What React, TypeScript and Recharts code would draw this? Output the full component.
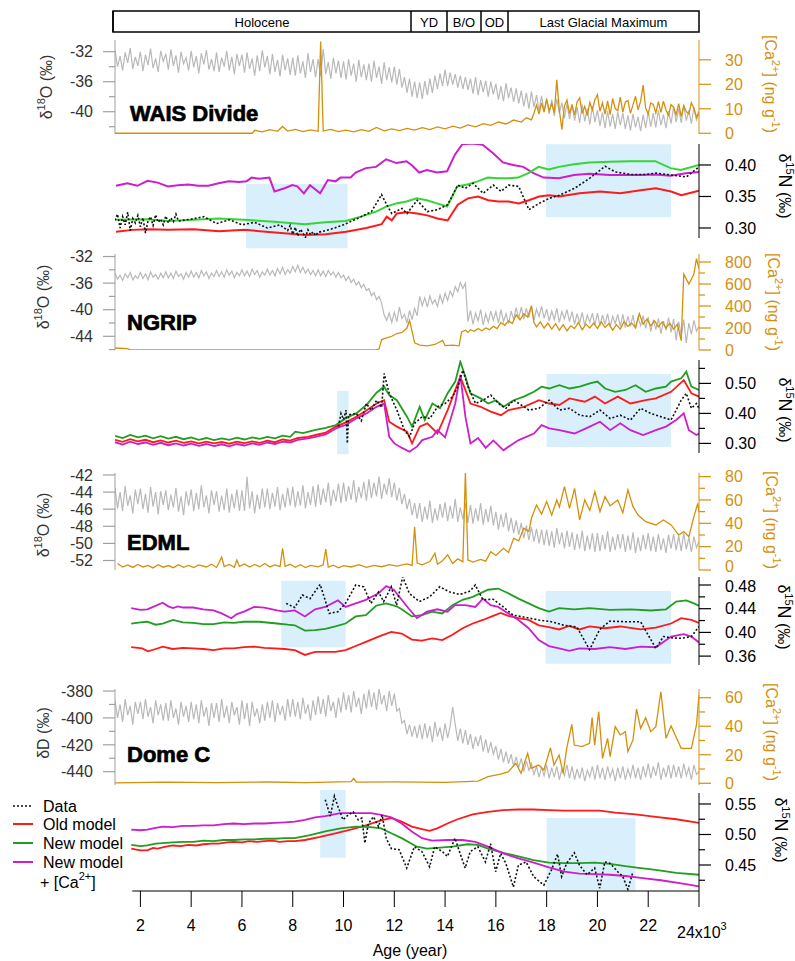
import React from "react";
import { LineChart, Line, XAxis, YAxis, ReferenceArea, ReferenceLine } from "recharts";

const W = 795;
const H = 961;
const PLOT_L = 115;
const PLOT_R = 699;
const AXW = 60;
const FONT = "'Liberation Sans', Arial, sans-serif";
const X_DOMAIN: [number, number] = [1, 24];

const GRAY = "#b9b9b9";
const ORANGE = "#d4900c";
const RED = "#ff1a1a";
const GREEN_BRIGHT = "#33d633";
const GREEN = "#1f9e1f";
const MAGENTA = "#cc1ecc";
const BLACK = "#111";
const SHADE = "#d9effb";
const AXIS_GRAY = "#a0a0a0";

// shared age grid (kyr) for the isotope records, one row per thousand years
const AGE_GRID = [
  1.0, 1.1, 1.2, 1.3, 1.4, 1.5, 1.6, 1.7, 1.8, 1.9,
  2.0, 2.1, 2.2, 2.3, 2.4, 2.5, 2.6, 2.7, 2.8, 2.9,
  3.0, 3.1, 3.2, 3.3, 3.4, 3.5, 3.6, 3.7, 3.8, 3.9,
  4.0, 4.1, 4.2, 4.3, 4.4, 4.5, 4.6, 4.7, 4.8, 4.9,
  5.0, 5.1, 5.2, 5.3, 5.4, 5.5, 5.6, 5.7, 5.8, 5.9,
  6.0, 6.1, 6.2, 6.3, 6.4, 6.5, 6.6, 6.7, 6.8, 6.9,
  7.0, 7.1, 7.2, 7.3, 7.4, 7.5, 7.6, 7.7, 7.8, 7.9,
  8.0, 8.1, 8.2, 8.3, 8.4, 8.5, 8.6, 8.7, 8.8, 8.9,
  9.0, 9.1, 9.2, 9.3, 9.4, 9.5, 9.6, 9.7, 9.8, 9.9,
  10.0, 10.1, 10.2, 10.3, 10.4, 10.5, 10.6, 10.7, 10.8, 10.9,
  11.0, 11.1, 11.2, 11.3, 11.4, 11.5, 11.6, 11.7, 11.8, 11.9,
  12.0, 12.1, 12.2, 12.3, 12.4, 12.5, 12.6, 12.7, 12.8, 12.9,
  13.0, 13.1, 13.2, 13.3, 13.4, 13.5, 13.6, 13.7, 13.8, 13.9,
  14.0, 14.1, 14.2, 14.3, 14.4, 14.5, 14.6, 14.7, 14.8, 14.9,
  15.0, 15.1, 15.2, 15.3, 15.4, 15.5, 15.6, 15.7, 15.8, 15.9,
  16.0, 16.1, 16.2, 16.3, 16.4, 16.5, 16.6, 16.7, 16.8, 16.9,
  17.0, 17.1, 17.2, 17.3, 17.4, 17.5, 17.6, 17.7, 17.8, 17.9,
  18.0, 18.1, 18.2, 18.3, 18.4, 18.5, 18.6, 18.7, 18.8, 18.9,
  19.0, 19.1, 19.2, 19.3, 19.4, 19.5, 19.6, 19.7, 19.8, 19.9,
  20.0, 20.1, 20.2, 20.3, 20.4, 20.5, 20.6, 20.7, 20.8, 20.9,
  21.0, 21.1, 21.2, 21.3, 21.4, 21.5, 21.6, 21.7, 21.8, 21.9,
  22.0, 22.1, 22.2, 22.3, 22.4, 22.5, 22.6, 22.7, 22.8, 22.9,
  23.0, 23.1, 23.2, 23.3, 23.4, 23.5, 23.6, 23.7, 23.8, 23.9,
  24.0,
];

// ---- WAIS Divide ----
const waisD18O = [
  -31.8, -34.0, -32.6, -34.5, -32.1, -33.5, -31.5, -34.3, -32.7, -33.9,
  -32.0, -34.6, -32.4, -33.8, -31.6, -34.2, -32.9, -34.7, -31.9, -33.3,
  -32.3, -34.4, -31.7, -33.9, -32.5, -34.8, -32.0, -33.6, -32.8, -34.5,
  -31.9, -34.1, -32.6, -34.9, -32.2, -33.7, -31.8, -34.4, -33.0, -34.6,
  -32.1, -34.7, -32.8, -34.0, -31.9, -34.5, -32.7, -35.0, -32.3, -33.9,
  -32.4, -34.8, -32.1, -34.3, -32.9, -35.2, -32.5, -34.6, -31.8, -34.1,
  -32.6, -35.0, -32.3, -34.7, -33.1, -35.3, -32.4, -34.5, -32.9, -35.1,
  -32.8, -35.2, -32.5, -34.9, -33.3, -35.5, -32.2, -34.7, -33.0, -35.4,
  -33.0, -35.3, -31.6, -35.0, -33.4, -35.6, -32.8, -34.9, -33.2, -35.5,
  -33.3, -35.7, -33.0, -35.2, -33.6, -36.0, -33.1, -35.4, -33.7, -35.8,
  -33.6, -36.0, -33.2, -35.5, -34.0, -36.3, -33.4, -35.8, -34.1, -36.1,
  -34.0, -36.4, -34.3, -36.8, -35.4, -37.5, -35.6, -38.0, -36.0, -38.2,
  -36.1, -38.3, -35.9, -37.8, -35.6, -37.5, -35.2, -37.0, -34.9, -36.6,
  -34.4, -36.6, -34.8, -36.4, -35.0, -36.8, -35.2, -37.0, -35.4, -37.1,
  -35.6, -37.6, -35.4, -37.8, -35.8, -37.4, -35.9, -38.0, -36.0, -37.7,
  -36.3, -38.4, -36.6, -38.6, -36.2, -38.2, -36.8, -38.7, -36.9, -38.9,
  -37.2, -39.3, -37.5, -39.6, -37.3, -39.4, -37.8, -39.9, -37.9, -40.0,
  -38.2, -40.3, -38.4, -40.6, -38.3, -40.2, -38.8, -40.9, -38.9, -41.0,
  -39.1, -41.2, -39.4, -41.5, -39.0, -41.3, -39.6, -41.7, -39.3, -41.4,
  -39.8, -41.9, -40.1, -42.2, -39.9, -42.0, -40.3, -42.3, -40.0, -41.8,
  -40.2, -42.3, -40.5, -42.5, -40.3, -42.1, -40.7, -42.6, -40.4, -42.2,
  -40.0, -42.0, -40.2, -42.1, -39.8, -41.8, -40.4, -42.2, -39.9, -41.6,
  -39.3, -41.4, -39.6, -41.5, -39.2, -41.2, -39.8, -41.6, -39.4, -41.1,
  -40.3,
];
const waisCa = [
  [1.0, 0], [6.4, 0], [6.5, 1.2], [6.8, 0.6], [7.1, 1.5], [7.4, 0.8], [7.6, 2.8], [7.8, 0.9],
  [8.1, 1.6], [8.4, 0.7], [8.7, 1.4], [9.0, 0.8], [9.1, 37.5], [9.2, 0.9], [9.5, 1.6], [9.8, 0.7],
  [10.1, 1.3], [10.4, 0.6], [10.7, 1.5], [11.0, 0.8], [11.3, 2.4], [11.6, 1.0], [11.9, 1.8], [12.2, 1.1],
  [12.5, 2.0], [12.8, 1.3], [13.1, 2.3], [13.4, 1.5], [13.7, 2.6], [14.0, 1.8], [14.3, 2.9], [14.6, 2.1],
  [14.9, 3.4], [15.2, 2.6], [15.5, 3.9], [15.8, 3.2], [16.1, 4.6], [16.4, 3.8], [16.7, 5.4], [17.0, 4.6],
  [17.2, 6.3], [17.4, 5.5], [17.5, 8.2], [17.6, 11.5], [17.7, 7.8], [17.8, 12.4], [17.9, 8.6], [18.0, 13.8],
  [18.1, 9.2], [18.2, 12.0], [18.3, 8.4], [18.4, 21.8], [18.5, 9.4], [18.6, 1.5], [18.7, 11.2], [18.8, 13.6],
  [18.9, 8.0], [19.0, 11.8], [19.1, 7.4], [19.2, 12.9], [19.3, 14.5], [19.4, 8.1], [19.5, 11.0], [19.6, 7.2],
  [19.7, 12.6], [19.8, 9.5], [19.9, 13.7], [20.0, 15.8], [20.1, 9.0], [20.2, 12.4], [20.3, 7.8], [20.4, 13.2],
  [20.5, 7.6], [20.6, 14.2], [20.7, 10.1], [20.8, 9.3], [20.9, 14.8], [21.0, 8.6], [21.1, 12.8], [21.2, 13.4],
  [21.3, 8.1], [21.4, 11.6], [21.5, 15.1], [21.6, 9.6], [21.7, 13.0], [21.8, 19.7], [21.9, 10.2], [22.0, 7.9],
  [22.1, 12.4], [22.2, 11.8], [22.3, 8.3], [22.4, 12.9], [22.5, 8.5], [22.6, 13.1], [22.7, 9.4], [22.8, 7.4],
  [22.9, 11.7], [23.0, 10.6], [23.1, 7.6], [23.2, 12.1], [23.3, 6.8], [23.4, 11.4], [23.5, 8.8], [23.6, 7.9],
  [23.7, 12.5], [23.8, 10.2], [23.9, 6.5], [24.0, 9.0],
];
const waisN15Magenta = [
  [1.04, 0.367], [1.48, 0.371], [1.88, 0.367], [2.28, 0.375], [2.68, 0.372], [3.08, 0.366], [3.48, 0.368],
  [3.88, 0.369], [4.28, 0.367], [4.68, 0.367], [5.08, 0.371], [5.48, 0.374], [5.88, 0.373], [6.18, 0.374],
  [6.38, 0.38], [6.68, 0.378], [7.08, 0.38], [7.28, 0.358], [7.68, 0.363], [7.98, 0.368], [8.18, 0.366],
  [8.44, 0.355], [8.68, 0.368], [9.08, 0.355], [9.38, 0.376], [9.68, 0.374], [9.88, 0.38], [10.28, 0.38],
  [10.48, 0.388], [10.88, 0.395], [11.28, 0.397], [11.68, 0.409], [12.08, 0.403], [12.48, 0.406],
  [12.68, 0.4], [12.98, 0.388], [13.28, 0.392], [13.68, 0.388], [14.08, 0.39], [14.38, 0.416],
  [14.68, 0.433], [15.08, 0.434], [15.48, 0.432], [15.88, 0.419], [16.28, 0.404], [16.68, 0.4],
  [17.08, 0.397], [17.48, 0.387], [17.88, 0.38], [18.48, 0.379], [19.08, 0.384], [19.68, 0.386],
  [20.48, 0.384], [21.08, 0.384], [21.68, 0.384], [22.28, 0.385], [22.88, 0.383], [23.48, 0.387], [24.0, 0.389],
];
const waisN15Green = [
  [1.04, 0.313], [2.28, 0.314], [3.08, 0.311], [4.08, 0.313], [5.08, 0.315], [6.08, 0.313], [7.28, 0.31],
  [8.48, 0.306], [9.28, 0.309], [10.08, 0.311], [10.68, 0.318], [11.28, 0.326], [11.68, 0.334],
  [12.08, 0.339], [12.48, 0.342], [12.88, 0.347], [13.28, 0.344], [13.68, 0.339], [14.08, 0.334],
  [14.48, 0.366], [14.88, 0.369], [15.28, 0.374], [15.68, 0.38], [16.08, 0.379], [16.48, 0.379],
  [16.88, 0.38], [17.28, 0.387], [17.68, 0.397], [18.08, 0.393], [18.48, 0.397], [19.08, 0.401],
  [19.68, 0.404], [20.48, 0.405], [21.28, 0.406], [22.28, 0.406], [22.88, 0.395], [23.28, 0.392], [24.0, 0.4],
];
const waisN15Red = [
  [1.04, 0.294], [1.7, 0.297], [2.3, 0.298], [3.1, 0.297], [4.1, 0.298], [5.1, 0.295], [6.1, 0.297],
  [7.3, 0.293], [8.5, 0.289], [9.3, 0.29], [10.1, 0.294], [10.9, 0.3], [11.5, 0.306], [11.7, 0.318],
  [11.9, 0.312], [12.1, 0.323], [12.5, 0.325], [12.9, 0.323], [13.3, 0.32], [13.7, 0.315], [14.1, 0.312],
  [14.5, 0.337], [14.9, 0.347], [15.3, 0.35], [15.7, 0.344], [16.1, 0.342], [16.5, 0.342], [16.9, 0.339],
  [17.3, 0.344], [17.7, 0.35], [18.1, 0.352], [18.5, 0.35], [19.3, 0.355], [20.1, 0.358], [20.9, 0.355],
  [21.7, 0.36], [22.3, 0.363], [22.9, 0.358], [23.3, 0.352], [24.0, 0.359],
];
const waisN15Data = [
  [1.0, 0.312], [1.1, 0.322], [1.2, 0.3], [1.3, 0.318], [1.4, 0.305], [1.5, 0.325], [1.6, 0.296],
  [1.7, 0.315], [1.8, 0.308], [1.9, 0.32], [2.0, 0.302], [2.1, 0.316], [2.2, 0.292], [2.3, 0.311],
  [2.4, 0.318], [2.5, 0.304], [2.6, 0.321], [2.7, 0.309], [2.8, 0.314], [2.9, 0.305], [3.0, 0.319],
  [3.1, 0.308], [3.2, 0.316], [3.3, 0.31], [3.4, 0.322], [3.5, 0.311], [4.0, 0.314], [4.5, 0.318],
  [5.0, 0.307], [5.5, 0.313], [6.0, 0.305], [6.5, 0.309], [7.0, 0.3], [7.5, 0.305], [7.8, 0.296],
  [7.9, 0.304], [8.0, 0.29], [8.1, 0.301], [8.2, 0.287], [8.3, 0.298], [8.4, 0.292], [8.5, 0.285],
  [8.6, 0.297], [8.7, 0.289], [8.8, 0.294], [8.9, 0.288], [9.0, 0.293], [9.5, 0.298], [10.0, 0.305],
  [10.7, 0.318], [11.1, 0.326], [11.5, 0.353], [11.7, 0.337], [11.9, 0.323], [12.3, 0.331], [12.5, 0.323],
  [12.9, 0.344], [13.3, 0.326], [13.7, 0.329], [14.1, 0.337], [14.5, 0.368], [14.8, 0.363], [15.1, 0.371],
  [15.5, 0.355], [15.9, 0.368], [16.2, 0.358], [16.5, 0.368], [16.9, 0.366], [17.3, 0.329], [17.7, 0.339],
  [18.1, 0.347], [18.5, 0.352], [19.1, 0.363], [19.7, 0.379], [20.3, 0.398], [20.7, 0.389], [21.3, 0.385],
  [21.9, 0.385], [22.3, 0.387], [22.9, 0.384], [23.5, 0.381], [24.0, 0.397],
];

// ---- NGRIP ----
const ngripD18O = [
  -34.5, -35.4, -34.8, -35.6, -34.6, -35.2, -34.4, -35.5, -34.9, -35.3,
  -34.4, -35.3, -34.6, -35.5, -34.3, -35.1, -34.7, -35.4, -34.5, -35.2,
  -34.3, -35.2, -34.5, -35.3, -34.2, -35.0, -34.6, -35.4, -34.4, -35.1,
  -34.2, -35.1, -34.4, -35.2, -34.1, -34.9, -34.3, -35.3, -34.5, -35.0,
  -34.1, -35.0, -34.3, -35.1, -34.0, -34.8, -34.2, -35.2, -34.4, -34.9,
  -34.0, -34.9, -34.2, -35.0, -33.9, -34.7, -34.1, -35.1, -34.3, -34.8,
  -33.9, -34.8, -34.1, -34.9, -33.8, -34.6, -33.6, -34.7, -34.0, -34.5,
  -33.5, -34.3, -33.3, -34.4, -33.6, -34.5, -33.9, -34.7, -34.1, -34.9,
  -34.0, -34.9, -34.2, -35.0, -34.1, -34.8, -34.3, -35.1, -34.4, -35.2,
  -34.8, -35.6, -35.0, -35.9, -35.4, -36.3, -35.8, -36.7, -36.2, -37.1,
  -36.8, -37.9, -37.4, -38.5, -38.0, -39.0, -40.8, -41.6, -40.5, -41.9,
  -40.4, -41.8, -39.6, -41.3, -40.7, -42.0, -40.1, -41.5, -39.8, -40.9,
  -38.0, -39.4, -38.2, -39.6, -37.9, -39.1, -38.5, -39.5, -37.8, -39.0,
  -37.5, -38.6, -37.2, -38.0, -36.5, -37.3, -35.9, -36.8, -36.0, -41.8,
  -40.1, -42.2, -40.5, -41.7, -40.0, -42.3, -40.6, -41.9, -40.2, -41.6,
  -40.3, -42.0, -40.0, -41.8, -40.6, -42.1, -40.2, -41.5, -39.7, -41.3,
  -39.6, -41.4, -39.8, -41.2, -39.4, -41.6, -39.9, -41.0, -39.5, -41.3,
  -39.9, -41.7, -40.2, -41.5, -39.8, -41.9, -40.3, -41.4, -40.0, -41.8,
  -40.3, -42.2, -40.6, -42.0, -40.4, -42.4, -40.8, -41.9, -40.5, -42.3,
  -40.5, -42.4, -40.8, -42.2, -40.6, -42.6, -41.0, -42.1, -40.7, -42.5,
  -40.7, -42.7, -41.0, -42.5, -40.8, -42.9, -41.2, -42.4, -40.9, -42.8,
  -41.1, -43.3, -41.5, -43.0, -41.3, -43.6, -41.7, -43.1, -41.2, -43.4,
  -41.4, -44.6, -41.8, -43.9, -41.5, -45.0, -42.0, -43.7, -41.6, -43.2,
  -42.5,
];
const ngripCa = [
  [1.0, 18], [1.5, 12], [1.6, 0], [11.3, 0], [11.4, 10], [11.5, 95], [11.7, 110], [11.9, 125], [12.1, 150],
  [12.3, 160], [12.5, 200], [12.6, 270], [12.7, 170], [12.8, 65], [13.0, 45], [13.3, 38], [13.6, 50],
  [13.9, 88], [14.0, 40], [14.3, 45], [14.55, 38], [14.65, 165], [14.8, 180], [14.9, 160], [15.0, 185],
  [15.15, 170], [15.3, 195], [15.45, 175], [15.6, 200], [15.75, 185], [15.9, 215], [16.05, 195], [16.2, 250],
  [16.35, 225], [16.5, 265], [16.65, 240], [16.8, 320], [16.95, 275], [17.1, 330], [17.25, 300], [17.4, 400],
  [17.5, 250], [17.6, 210], [17.75, 255], [17.9, 200], [18.05, 245], [18.2, 190], [18.35, 240], [18.5, 180],
  [18.65, 230], [18.8, 175], [18.95, 220], [19.1, 195], [19.25, 250], [19.4, 185], [19.55, 235], [19.7, 200],
  [19.85, 245], [20.0, 195], [20.15, 255], [20.3, 205], [20.45, 240], [20.6, 180], [20.75, 230], [20.9, 190],
  [21.05, 260], [21.2, 215], [21.35, 245], [21.5, 205], [21.65, 330], [21.8, 235], [21.95, 280], [22.1, 220],
  [22.25, 265], [22.4, 210], [22.55, 255], [22.7, 200], [22.85, 245], [23.0, 190], [23.15, 235], [23.3, 85],
  [23.4, 690], [23.6, 600], [23.8, 690], [23.9, 830], [24.0, 740],
];
const ngripN15Green = [
  [1.0, 0.325], [1.3, 0.318], [1.6, 0.328], [1.9, 0.32], [2.2, 0.326], [2.5, 0.317], [2.8, 0.324],
  [3.1, 0.316], [3.4, 0.322], [3.7, 0.314], [4.0, 0.32], [4.3, 0.312], [4.6, 0.318], [4.9, 0.311],
  [5.2, 0.317], [5.5, 0.312], [5.8, 0.319], [6.1, 0.313], [6.4, 0.32], [6.7, 0.315], [7.0, 0.322],
  [7.3, 0.317], [7.6, 0.326], [7.9, 0.322], [8.1, 0.339], [8.4, 0.334], [8.9, 0.345], [9.3, 0.352],
  [9.7, 0.361], [10.1, 0.385], [10.5, 0.4], [10.9, 0.428], [11.3, 0.469], [11.6, 0.489], [11.8, 0.461],
  [12.1, 0.444], [12.5, 0.389], [12.7, 0.356], [13.0, 0.422], [13.2, 0.378], [13.5, 0.433], [13.8, 0.417],
  [14.1, 0.467], [14.4, 0.506], [14.6, 0.572], [14.8, 0.522], [15.0, 0.467], [15.4, 0.45], [15.7, 0.433],
  [16.0, 0.444], [16.3, 0.422], [16.7, 0.444], [17.1, 0.456], [17.5, 0.472], [17.8, 0.489], [18.1, 0.483],
  [18.5, 0.494], [18.9, 0.483], [19.3, 0.489], [19.7, 0.5], [20.0, 0.506], [20.3, 0.483], [20.7, 0.472],
  [21.1, 0.478], [21.5, 0.494], [21.9, 0.472], [22.3, 0.483], [22.7, 0.489], [22.9, 0.506], [23.3, 0.517],
  [23.5, 0.539], [23.7, 0.489], [24.0, 0.478],
];
const ngripN15Red = [
  [1.0, 0.312], [1.3, 0.305], [1.6, 0.314], [1.9, 0.307], [2.2, 0.312], [2.5, 0.304], [2.8, 0.31],
  [3.1, 0.303], [3.4, 0.309], [3.7, 0.302], [4.0, 0.307], [4.3, 0.3], [4.6, 0.306], [4.9, 0.3],
  [5.2, 0.305], [5.5, 0.299], [5.8, 0.306], [6.1, 0.301], [6.4, 0.307], [6.7, 0.302], [7.0, 0.309],
  [7.3, 0.304], [7.6, 0.313], [7.9, 0.309], [8.2, 0.318], [8.6, 0.322], [8.9, 0.328], [9.3, 0.336],
  [9.7, 0.356], [10.1, 0.37], [10.5, 0.389], [10.9, 0.41], [11.3, 0.433], [11.6, 0.444], [11.8, 0.372],
  [12.1, 0.356], [12.5, 0.339], [12.7, 0.3], [13.0, 0.356], [13.3, 0.367], [13.7, 0.333], [14.1, 0.411],
  [14.4, 0.478], [14.6, 0.522], [14.8, 0.478], [15.0, 0.433], [15.4, 0.422], [15.8, 0.406], [16.2, 0.394],
  [16.5, 0.411], [17.1, 0.422], [17.7, 0.444], [18.1, 0.433], [18.5, 0.428], [18.9, 0.45], [19.5, 0.439],
  [19.9, 0.456], [20.3, 0.433], [20.8, 0.456], [21.3, 0.433], [21.9, 0.444], [22.3, 0.45], [22.9, 0.472],
  [23.4, 0.511], [23.7, 0.467], [24.0, 0.456],
];
const ngripN15Magenta = [
  [1.0, 0.304], [1.3, 0.296], [1.6, 0.306], [1.9, 0.298], [2.2, 0.303], [2.5, 0.295], [2.8, 0.302],
  [3.1, 0.294], [3.4, 0.3], [3.7, 0.293], [4.0, 0.299], [4.3, 0.292], [4.6, 0.298], [4.9, 0.291],
  [5.2, 0.297], [5.5, 0.29], [5.8, 0.298], [6.1, 0.293], [6.4, 0.3], [6.7, 0.295], [7.0, 0.303],
  [7.3, 0.298], [7.6, 0.306], [7.9, 0.303], [8.2, 0.312], [8.6, 0.317], [8.9, 0.322], [9.3, 0.33],
  [9.7, 0.35], [10.1, 0.362], [10.5, 0.383], [10.9, 0.4], [11.3, 0.422], [11.6, 0.433], [11.8, 0.322],
  [12.0, 0.3], [12.3, 0.285], [12.6, 0.272], [12.9, 0.29], [13.1, 0.311], [13.5, 0.322], [13.7, 0.344],
  [14.0, 0.32], [14.4, 0.433], [14.6, 0.528], [14.8, 0.389], [15.0, 0.3], [15.3, 0.318], [15.6, 0.285],
  [15.9, 0.31], [16.3, 0.277], [16.6, 0.295], [16.9, 0.311], [17.5, 0.333], [17.8, 0.361], [18.1, 0.35],
  [18.5, 0.344], [19.1, 0.333], [19.7, 0.356], [20.1, 0.372], [20.5, 0.344], [20.9, 0.367], [21.3, 0.344],
  [21.8, 0.328], [22.3, 0.344], [22.7, 0.356], [23.1, 0.378], [23.4, 0.4], [23.6, 0.344], [23.9, 0.328],
  [24.0, 0.333],
];
const ngripN15Data = [
  [9.8, 0.356], [9.9, 0.4], [10.0, 0.38], [10.1, 0.411], [10.15, 0.3], [10.2, 0.395], [10.5, 0.4],
  [10.7, 0.375], [10.9, 0.433], [11.1, 0.41], [11.3, 0.444], [11.5, 0.42], [11.6, 0.533], [11.8, 0.467],
  [12.1, 0.411], [12.4, 0.344], [12.6, 0.322], [12.8, 0.367], [13.1, 0.389], [13.4, 0.383], [13.7, 0.422],
  [14.0, 0.433], [14.3, 0.456], [14.5, 0.489], [14.7, 0.544], [14.9, 0.489], [15.2, 0.433], [15.5, 0.444],
  [15.8, 0.461], [16.1, 0.433], [16.4, 0.417], [16.7, 0.444], [17.0, 0.428], [17.3, 0.411], [17.7, 0.417],
  [18.1, 0.444], [18.5, 0.411], [18.9, 0.417], [19.3, 0.394], [19.7, 0.389], [20.1, 0.411], [20.5, 0.383],
  [20.9, 0.394], [21.3, 0.378], [21.7, 0.417], [22.1, 0.4], [22.5, 0.389], [22.9, 0.378], [23.3, 0.444],
  [23.5, 0.467], [23.7, 0.417], [23.9, 0.433], [24.0, 0.417],
];

// ---- EDML ----
const edmlD18O = [
  -43.5, -45.9, -44.0, -46.2, -43.3, -45.6, -44.4, -46.5, -43.7, -45.4,
  -43.6, -46.0, -44.2, -46.4, -43.4, -45.7, -44.0, -46.6, -43.9, -45.5,
  -43.8, -46.1, -44.3, -45.8, -43.5, -46.3, -44.5, -46.7, -43.9, -45.6,
  -43.7, -46.2, -44.1, -46.0, -43.2, -45.8, -44.4, -46.5, -43.8, -45.5,
  -43.9, -46.3, -44.4, -46.1, -43.6, -46.4, -44.2, -45.9, -43.7, -46.2,
  -43.8, -46.2, -42.2, -45.9, -43.9, -46.5, -44.3, -46.0, -43.6, -45.8,
  -43.6, -46.0, -44.1, -45.7, -43.4, -46.1, -44.2, -45.8, -43.5, -45.6,
  -43.4, -45.8, -43.9, -45.6, -43.2, -45.9, -44.0, -45.5, -43.3, -45.7,
  -43.1, -45.5, -43.6, -45.2, -42.9, -45.6, -43.7, -45.1, -43.0, -45.3,
  -42.9, -45.1, -43.3, -44.9, -42.6, -45.2, -43.4, -44.7, -42.8, -45.0,
  -42.5, -44.7, -42.9, -44.5, -42.2, -44.8, -43.0, -44.3, -42.4, -44.6,
  -42.9, -45.0, -43.5, -45.4, -44.2, -46.0, -44.8, -46.7, -45.3, -47.1,
  -45.3, -47.5, -45.7, -47.2, -45.0, -47.6, -45.9, -47.3, -45.4, -47.0,
  -45.2, -47.4, -45.6, -47.1, -44.8, -47.5, -45.8, -47.2, -45.3, -47.6,
  -45.5, -47.7, -45.9, -47.4, -45.3, -47.8, -46.0, -47.5, -45.6, -47.9,
  -46.3, -48.4, -46.6, -48.1, -46.4, -48.6, -47.0, -48.8, -47.3, -49.0,
  -47.6, -49.4, -47.9, -49.6, -48.1, -49.8, -48.3, -50.0, -48.4, -50.2,
  -48.4, -50.3, -48.6, -50.5, -48.2, -50.1, -48.7, -50.6, -48.5, -50.4,
  -48.7, -50.8, -48.9, -50.6, -48.5, -50.9, -49.1, -50.7, -48.8, -51.0,
  -48.8, -50.9, -49.0, -50.7, -48.6, -51.0, -49.2, -50.8, -48.9, -50.6,
  -48.9, -51.0, -49.1, -50.8, -48.7, -51.1, -49.3, -50.9, -49.0, -50.7,
  -48.8, -50.9, -49.2, -51.0, -48.9, -50.8, -49.4, -51.1, -49.0, -50.6,
  -48.9, -50.8, -49.1, -50.9, -48.8, -50.7, -49.3, -51.0, -49.2, -50.5,
  -49.8,
];
const edmlCa = [
  [1.1, 5.5], [1.3, 2.5], [1.5, 4.3], [1.7, 2.2], [1.9, 4.8], [2.1, 2.6], [2.3, 4.0], [2.5, 1.8],
  [2.7, 4.5], [2.9, 2.4], [3.1, 3.8], [3.3, 2.0], [3.5, 4.6], [3.7, 2.3], [3.9, 3.9], [4.1, 2.1],
  [4.3, 4.4], [4.6, 2.6], [4.8, 4.9], [5.0, 2.2], [5.2, 11.0], [5.3, 3.0], [5.5, 4.8], [5.7, 2.4],
  [5.8, 8.5], [5.9, 3.1], [6.1, 5.2], [6.3, 2.5], [6.5, 4.7], [6.7, 2.8], [6.9, 5.6], [7.1, 2.6],
  [7.3, 4.3], [7.5, 2.9], [7.6, 18.5], [7.7, 3.2], [7.9, 4.9], [8.1, 2.3], [8.3, 4.6], [8.5, 2.1],
  [8.7, 4.0], [9.0, 2.7], [9.2, 4.4], [9.3, 18.0], [9.4, 2.5], [9.6, 4.2], [9.8, 1.9], [10.0, 3.8],
  [10.3, 2.6], [10.6, 4.5], [10.9, 2.2], [11.2, 3.9], [11.5, 2.8], [11.8, 4.6], [12.1, 3.3], [12.5, 5.2],
  [12.7, 4.0], [12.8, 37.0], [12.9, 6.0], [13.1, 4.5], [13.4, 7.2], [13.6, 14.3], [13.7, 5.0], [13.9, 8.0],
  [14.1, 13.0], [14.3, 5.5], [14.5, 9.5], [14.7, 7.0], [14.8, 83.7], [14.9, 8.6], [15.1, 6.8], [15.4, 9.0],
  [15.6, 7.6], [15.8, 15.7], [16.0, 12.5], [16.3, 18.6], [16.5, 15.0], [16.7, 27.1], [16.9, 25.0],
  [17.1, 35.7], [17.3, 33.0], [17.4, 44.3], [17.6, 55.7], [17.8, 48.0], [18.0, 58.6], [18.2, 47.0],
  [18.4, 60.0], [18.5, 54.0], [18.7, 71.4], [18.9, 52.8], [19.1, 70.0], [19.3, 42.9], [19.5, 60.0],
  [19.7, 51.0], [19.9, 67.1], [20.1, 50.0], [20.3, 62.9], [20.5, 55.0], [20.8, 60.0], [21.0, 49.0],
  [21.2, 68.6], [21.4, 54.3], [21.6, 47.1], [21.9, 41.4], [22.3, 38.6], [22.6, 42.9], [22.9, 38.6],
  [23.2, 30.0], [23.4, 32.9], [23.6, 28.6], [23.8, 45.7], [23.95, 57.0], [24.0, 50.0],
];
const edmlN15Magenta = [
  [1.64, 0.441], [2.0, 0.438], [2.27, 0.439], [2.5, 0.443], [2.88, 0.45], [3.1, 0.444], [3.28, 0.441],
  [3.48, 0.444], [3.68, 0.442], [4.08, 0.442], [4.48, 0.439], [4.88, 0.437], [5.2, 0.432], [5.58, 0.424],
  [5.8, 0.431], [6.08, 0.435], [6.48, 0.443], [6.88, 0.442], [7.38, 0.437], [7.68, 0.435], [8.08, 0.437],
  [8.48, 0.427], [8.88, 0.439], [9.28, 0.443], [9.78, 0.454], [10.08, 0.443], [10.48, 0.449],
  [10.88, 0.455], [11.38, 0.466], [11.68, 0.478], [11.98, 0.472], [12.29, 0.455], [12.59, 0.439],
  [12.89, 0.424], [13.29, 0.435], [13.69, 0.439], [14.09, 0.435], [14.39, 0.446], [14.79, 0.446],
  [15.19, 0.443], [15.49, 0.457], [15.79, 0.446], [16.09, 0.443], [16.49, 0.432], [16.89, 0.421],
  [17.29, 0.407], [17.69, 0.387], [18.09, 0.377], [18.49, 0.373], [18.89, 0.369], [19.29, 0.373],
  [19.89, 0.372], [20.49, 0.375], [21.1, 0.372], [21.7, 0.376], [22.3, 0.375], [22.6, 0.384],
  [22.9, 0.393], [23.4, 0.397], [23.7, 0.393], [24.0, 0.383],
];
const edmlN15Green = [
  [1.64, 0.415], [2.0, 0.417], [2.27, 0.418], [2.6, 0.413], [2.88, 0.415], [3.28, 0.421], [3.68, 0.417],
  [4.08, 0.416], [4.48, 0.414], [4.88, 0.414], [5.3, 0.417], [5.68, 0.416], [6.08, 0.418], [6.68, 0.418],
  [7.38, 0.415], [7.8, 0.413], [8.08, 0.412], [8.48, 0.403], [8.88, 0.404], [9.28, 0.406], [9.68, 0.41],
  [10.08, 0.415], [10.48, 0.427], [10.88, 0.429], [11.28, 0.445], [11.68, 0.449], [12.09, 0.444],
  [12.29, 0.439], [12.69, 0.427], [13.09, 0.429], [13.49, 0.435], [13.89, 0.432], [14.29, 0.446],
  [14.69, 0.455], [15.09, 0.46], [15.69, 0.472], [16.09, 0.474], [16.49, 0.466], [16.89, 0.457],
  [17.29, 0.449], [17.69, 0.441], [18.09, 0.435], [18.49, 0.441], [19.09, 0.439], [19.69, 0.441],
  [20.49, 0.438], [21.3, 0.439], [22.1, 0.437], [22.7, 0.439], [23.1, 0.452], [23.5, 0.454],
  [23.8, 0.449], [24.0, 0.445],
];
const edmlN15Red = [
  [1.64, 0.375], [2.07, 0.373], [2.3, 0.368], [2.6, 0.372], [2.88, 0.376], [3.28, 0.372], [3.68, 0.374],
  [4.08, 0.373], [4.48, 0.372], [4.88, 0.37], [5.3, 0.373], [5.68, 0.373], [6.08, 0.375], [6.48, 0.376],
  [6.88, 0.374], [7.28, 0.373], [7.68, 0.372], [8.08, 0.37], [8.48, 0.362], [8.88, 0.367], [9.28, 0.367],
  [9.68, 0.367], [10.08, 0.37], [10.48, 0.377], [10.88, 0.384], [11.38, 0.393], [11.88, 0.401],
  [12.29, 0.398], [12.69, 0.388], [13.09, 0.386], [13.49, 0.39], [13.89, 0.387], [14.29, 0.396],
  [14.69, 0.407], [15.09, 0.415], [15.49, 0.421], [15.89, 0.428], [16.19, 0.433], [16.49, 0.428],
  [16.89, 0.424], [17.29, 0.421], [17.69, 0.412], [18.09, 0.409], [18.49, 0.405], [18.89, 0.411],
  [19.29, 0.405], [19.69, 0.41], [20.29, 0.407], [20.9, 0.41], [21.7, 0.405], [22.3, 0.408],
  [22.9, 0.415], [23.3, 0.424], [23.7, 0.421], [24.0, 0.416],
];
const edmlN15Data = [
  [7.74, 0.449], [8.08, 0.442], [8.38, 0.463], [8.68, 0.457], [9.08, 0.481], [9.44, 0.432], [9.78, 0.435],
  [10.08, 0.449], [10.48, 0.48], [10.79, 0.477], [11.08, 0.449], [11.38, 0.468], [11.58, 0.452],
  [11.88, 0.477], [12.09, 0.446], [12.33, 0.494], [12.59, 0.466], [12.99, 0.452], [13.39, 0.46],
  [13.79, 0.477], [14.19, 0.468], [14.59, 0.464], [14.99, 0.47], [15.19, 0.48], [15.49, 0.455],
  [15.89, 0.456], [16.29, 0.443], [16.69, 0.429], [17.09, 0.426], [17.69, 0.421], [18.19, 0.418],
  [18.69, 0.412], [19.19, 0.409], [19.69, 0.371], [20.09, 0.405], [20.49, 0.419], [21.1, 0.418],
  [21.7, 0.418], [22.3, 0.373], [22.6, 0.393], [22.9, 0.391], [23.3, 0.39], [23.7, 0.393], [24.0, 0.41],
];

// ---- Dome C ----
const domeCdD = [
  -387, -400, -390, -403, -386, -398, -391, -405, -388, -397,
  -388, -401, -386, -399, -392, -404, -387, -398, -390, -402,
  -389, -402, -387, -400, -393, -405, -388, -399, -391, -403,
  -388, -401, -390, -404, -387, -399, -392, -406, -389, -400,
  -389, -403, -386, -400, -391, -404, -388, -398, -392, -405,
  -387, -401, -389, -406, -388, -399, -393, -404, -390, -402,
  -388, -400, -387, -403, -389, -398, -391, -402, -386, -399,
  -386, -399, -388, -401, -385, -397, -390, -402, -387, -398,
  -384, -397, -386, -399, -383, -395, -388, -400, -385, -396,
  -381, -394, -383, -396, -380, -392, -385, -397, -382, -393,
  -379, -392, -381, -394, -378, -390, -383, -395, -380, -391,
  -382, -395, -393, -404, -402, -412, -405, -414, -406, -415,
  -405, -416, -404, -415, -406, -418, -403, -414, -407, -417,
  -404, -415, -406, -392, -405, -417, -408, -419, -409, -420,
  -412, -423, -414, -421, -413, -425, -416, -426, -418, -427,
  -421, -431, -423, -433, -425, -434, -427, -436, -429, -437,
  -430, -440, -432, -439, -434, -442, -436, -444, -437, -443,
  -435, -445, -437, -444, -436, -446, -438, -443, -435, -445,
  -436, -446, -438, -445, -437, -447, -439, -444, -436, -446,
  -435, -445, -437, -446, -436, -444, -438, -447, -437, -445,
  -436, -446, -438, -444, -435, -445, -437, -446, -436, -444,
  -434, -445, -436, -443, -433, -446, -437, -444, -435, -445,
  -435, -444, -436, -445, -434, -443, -437, -446, -435, -442,
  -440,
];
const domeCCa = [
  [1.0, 0.3], [3.0, 0.8], [5.0, 0.4], [7.0, 0.9], [8.5, 0.5], [10.3, 1.2], [10.4, 3.5], [10.5, 0.8],
  [12.0, 1.0], [14.0, 0.7], [15.3, 1.5], [15.69, 4.6], [16.19, 6.4], [16.49, 8.1], [16.79, 14.0],
  [16.99, 7.0], [17.25, 21.0], [17.39, 10.5], [17.69, 12.8], [17.89, 9.3], [18.15, 24.9], [18.29, 12.8],
  [18.49, 19.8], [18.65, 7.0], [18.79, 24.5], [18.99, 41.3], [19.09, 26.8], [19.39, 25.7], [19.69, 28.0],
  [19.79, 46.0], [19.89, 26.8], [20.05, 50.2], [20.2, 17.5], [20.4, 31.5], [20.5, 18.7], [20.7, 39.7],
  [20.9, 33.9], [21.1, 36.2], [21.2, 22.2], [21.4, 30.4], [21.54, 52.1], [21.7, 38.5], [21.9, 46.0],
  [22.1, 36.2], [22.3, 39.7], [22.5, 64.2], [22.7, 31.5], [22.9, 40.2], [23.3, 24.5], [23.7, 24.5],
  [23.9, 40.9], [24.0, 61.9],
];
const domeCN15Red = [
  [1.64, 0.477], [2.0, 0.474], [2.27, 0.474], [2.5, 0.478], [2.68, 0.477], [3.0, 0.48], [3.28, 0.482],
  [3.6, 0.481], [3.88, 0.483], [4.2, 0.482], [4.48, 0.484], [4.8, 0.485], [5.08, 0.485], [5.4, 0.487],
  [5.68, 0.488], [6.0, 0.487], [6.28, 0.489], [6.6, 0.488], [6.88, 0.489], [7.2, 0.49], [7.48, 0.488],
  [7.8, 0.489], [8.08, 0.489], [8.48, 0.491], [9.08, 0.496], [9.68, 0.502], [10.28, 0.508], [10.88, 0.515],
  [11.48, 0.523], [11.88, 0.527], [12.29, 0.521], [12.69, 0.513], [13.09, 0.509], [13.39, 0.506],
  [13.69, 0.51], [14.09, 0.518], [14.49, 0.525], [15.09, 0.533], [15.69, 0.537], [16.29, 0.54],
  [16.89, 0.541], [17.49, 0.541], [18.09, 0.54], [18.69, 0.539], [19.29, 0.539], [20.09, 0.539],
  [20.7, 0.536], [21.5, 0.533], [22.3, 0.529], [23.1, 0.525], [24.0, 0.519],
];
const domeCN15Green = [
  [1.64, 0.483], [2.0, 0.481], [2.27, 0.482], [2.6, 0.485], [2.88, 0.486], [3.28, 0.487], [3.68, 0.488],
  [4.08, 0.488], [4.48, 0.49], [4.88, 0.489], [5.28, 0.491], [5.68, 0.491], [6.08, 0.492], [6.48, 0.492],
  [6.88, 0.493], [7.28, 0.493], [7.68, 0.494], [8.08, 0.494], [8.68, 0.499], [9.28, 0.505], [9.88, 0.51],
  [10.48, 0.513], [11.08, 0.512], [11.48, 0.51], [11.88, 0.502], [12.29, 0.494], [12.89, 0.48],
  [13.29, 0.477], [13.69, 0.478], [14.29, 0.48], [14.89, 0.484], [15.29, 0.483], [15.69, 0.477],
  [16.29, 0.47], [16.89, 0.464], [17.49, 0.458], [18.09, 0.454], [18.69, 0.453], [19.29, 0.453],
  [19.89, 0.454], [20.49, 0.452], [21.1, 0.448], [21.7, 0.445], [22.3, 0.442], [23.1, 0.437], [24.0, 0.434],
];
const domeCN15Magenta = [
  [1.64, 0.508], [2.0, 0.507], [2.27, 0.508], [2.6, 0.511], [2.88, 0.513], [3.28, 0.512], [3.68, 0.514],
  [4.08, 0.514], [4.48, 0.515], [4.88, 0.515], [5.28, 0.517], [5.68, 0.518], [6.08, 0.517], [6.48, 0.518],
  [6.88, 0.518], [7.28, 0.519], [7.68, 0.52], [8.08, 0.521], [8.48, 0.524], [8.88, 0.528], [9.28, 0.53],
  [9.88, 0.535], [10.48, 0.535], [11.08, 0.535], [11.48, 0.532], [11.88, 0.528], [12.29, 0.518],
  [12.69, 0.505], [13.09, 0.494], [13.49, 0.49], [14.09, 0.491], [14.69, 0.491], [15.19, 0.488],
  [15.69, 0.48], [16.29, 0.469], [16.89, 0.461], [17.49, 0.454], [18.09, 0.446], [18.69, 0.439],
  [19.29, 0.436], [19.89, 0.435], [20.49, 0.434], [21.1, 0.432], [21.7, 0.429], [22.5, 0.425],
  [23.3, 0.42], [24.0, 0.415],
];
const domeCN15Data = [
  [9.28, 0.557], [9.48, 0.53], [9.64, 0.563], [9.78, 0.546], [9.98, 0.524], [10.18, 0.532], [10.38, 0.537],
  [10.58, 0.524], [10.72, 0.527], [10.84, 0.486], [10.98, 0.518], [11.18, 0.529], [11.38, 0.513],
  [11.52, 0.532], [11.68, 0.494], [11.88, 0.477], [12.19, 0.475], [12.49, 0.445], [12.79, 0.48],
  [13.09, 0.472], [13.39, 0.447], [13.59, 0.48], [13.89, 0.472], [14.09, 0.464], [14.39, 0.494],
  [14.59, 0.469], [14.79, 0.445], [14.99, 0.472], [15.29, 0.48], [15.59, 0.455], [15.79, 0.485],
  [15.99, 0.439], [16.19, 0.469], [16.39, 0.453], [16.69, 0.414], [16.89, 0.45], [17.19, 0.455],
  [17.49, 0.431], [17.89, 0.417], [18.19, 0.442], [18.43, 0.468], [18.59, 0.431], [18.79, 0.453],
  [19.09, 0.47], [19.29, 0.45], [19.59, 0.434], [19.89, 0.445], [20.09, 0.412], [20.29, 0.455],
  [20.49, 0.453], [20.8, 0.439], [21.0, 0.431], [21.2, 0.41], [21.4, 0.439],
];

// shaded model-comparison windows: [x1, x2, y1, y2]
const shadeWais = [[6.16, 10.16, 0.268, 0.37], [17.97, 22.9, 0.317, 0.433]];
const shadeNgrip = [[9.75, 10.2, 0.264, 0.475], [18.0, 22.9, 0.288, 0.531]];
const shadeEdml = [[7.55, 10.08, 0.375, 0.487], [17.96, 22.9, 0.347, 0.47]];
const shadeDomeC = [[9.08, 10.08, 0.462, 0.573], [18.0, 21.5, 0.409, 0.527]];

const periods = [
  { label: "Holocene", x1: 113, x2: 411 },
  { label: "YD", x1: 411, x2: 447 },
  { label: "B/O", x1: 447, x2: 481 },
  { label: "OD", x1: 481, x2: 508 },
  { label: "Last Glacial Maximum", x1: 508, x2: 699 },
];
const AGE_TICKS = [2, 4, 6, 8, 10, 12, 14, 16, 18, 20, 22, 24];

const grid = (vals: number[]) => vals.map((v, i) => ({ t: AGE_GRID[i], v }));
const pts = (p: number[][]) => p.map(([t, v]) => ({ t, v }));

const margin = (top: number, bottom: number, hasLeft: boolean, xh = 0) => ({
  top,
  bottom: H - bottom - xh,
  left: hasLeft ? PLOT_L - AXW : PLOT_L,
  right: W - PLOT_R - AXW,
});

const yTick =
  (
    side: "left" | "right",
    majors: number[],
    lineColor: string,
    textColor: string,
    fmt: (v: number) => string,
    nudge: (v: number) => number = () => 0
  ) =>
  (props: any) => {
    const { y, payload } = props;
    const v = payload.value;
    const major = majors.some((m) => Math.abs(m - v) < 1e-6);
    const ax = side === "left" ? PLOT_L : PLOT_R;
    const len = major ? 12 : 6;
    return (
      <g>
        <line x1={ax} x2={side === "left" ? ax - len : ax + len} y1={y} y2={y} stroke={lineColor} strokeWidth={1.2} />
        {major && (
          <text
            x={side === "left" ? 93 : 725}
            y={y + nudge(v)}
            dy="0.36em"
            textAnchor={side === "left" ? "end" : "start"}
            fontSize={16}
            fontFamily={FONT}
            fill={textColor}
          >
            {fmt(v)}
          </text>
        )}
      </g>
    );
  };

const ageTick = (props: any) => {
  const { x, payload } = props;
  if (payload.value === 24) {
    return (
      <text x={x - 22} y={938} fontSize={16} fontFamily={FONT} fill="#000">
        24x10<tspan dy={-8} fontSize={11}>3</tspan>
      </text>
    );
  }
  return (
    <text x={x} y={931} textAnchor="middle" fontSize={16} fontFamily={FONT} fill="#000">
      {payload.value}
    </text>
  );
};

const intLabel = (v: number) => String(v);
const n15Label = (v: number) => v.toFixed(2);
const abs: React.CSSProperties = { position: "absolute", left: 0, top: 0 };

const shades = (list: number[][], key: string) =>
  list.map(([x1, x2, y1, y2], i) => (
    <ReferenceArea
      key={key + i}
      yAxisId="r"
      x1={x1}
      x2={x2}
      y1={y1}
      y2={y2}
      fill={SHADE}
      fillOpacity={1}
      stroke="none"
      ifOverflow="visible"
    />
  ));

function LeftLabel({ x, y, main, sup, rest }: { x: number; y: number; main: string; sup?: string; rest: string }) {
  return (
    <text transform={`translate(${x},${y}) rotate(-90)`} textAnchor="middle" dy="0.35em" fontSize={16} fontFamily={FONT} fill="#333">
      {main}
      {sup && <tspan dy={-7} fontSize={11}>{sup}</tspan>}
      <tspan dy={sup ? 7 : 0}>{rest}</tspan>
    </text>
  );
}

function CaLabel({ x, y }: { x: number; y: number }) {
  return (
    <text transform={`translate(${x},${y}) rotate(90)`} textAnchor="middle" dy="0.35em" fontSize={16} fontFamily={FONT} fill={ORANGE}>
      [Ca<tspan dy={-7} fontSize={11}>2+</tspan>
      <tspan dy={7}>] (ng g</tspan>
      <tspan dy={-7} fontSize={11}>-1</tspan>
      <tspan dy={7}>)</tspan>
    </text>
  );
}

function N15Label({ x, y }: { x: number; y: number }) {
  return (
    <text transform={`translate(${x},${y}) rotate(90)`} textAnchor="middle" dy="0.35em" fontSize={16} fontFamily={FONT} fill="#000">
      δ<tspan dy={-7} fontSize={11}>15</tspan>
      <tspan dy={7} fontSize={18}>N</tspan>
      <tspan> (‰)</tspan>
    </text>
  );
}

function Overlay() {
  const t = { fontFamily: FONT, fill: "#000" };
  const title = { ...t, fontSize: 22, fontWeight: "bold" as const, stroke: "#000", strokeWidth: 0.7 };
  return (
    <svg width={W} height={H} style={{ ...abs, pointerEvents: "none" }}>
      {/* period bar */}
      <rect x={113} y={11} width={586} height={21} fill="#fff" stroke="#000" strokeWidth={1.5} />
      {periods.map((p) => (
        <g key={p.label}>
          <line x1={p.x1} x2={p.x1} y1={11} y2={32} stroke="#000" strokeWidth={1.5} />
          <text x={(p.x1 + p.x2) / 2} y={26.5} textAnchor="middle" fontSize={13} {...t}>
            {p.label}
          </text>
        </g>
      ))}

      {/* core names */}
      <text x={130} y={121} {...title}>WAIS Divide</text>
      <text x={127} y={330} {...title}>NGRIP</text>
      <text x={127} y={550} {...title}>EDML</text>
      <text x={127} y={762} {...title}>Dome C</text>

      {/* axis titles */}
      <LeftLabel x={46} y={87} main="δ" sup="18" rest="O (‰)" />
      <LeftLabel x={43} y={297} main="δ" sup="18" rest="O (‰)" />
      <LeftLabel x={43} y={525} main="δ" sup="18" rest="O (‰)" />
      <LeftLabel x={43} y={733} main="δD (‰)" rest="" />
      <CaLabel x={771} y={84} />
      <CaLabel x={774} y={302} />
      <CaLabel x={772} y={520} />
      <CaLabel x={772} y={732} />
      <N15Label x={785} y={186} />
      <N15Label x={785} y={410} />
      <N15Label x={784} y={617} />
      <N15Label x={781} y={830} />

      <text x={410} y={956} textAnchor="middle" fontSize={16} {...t}>Age (year)</text>

      {/* legend */}
      <line x1={13} x2={33} y1={806} y2={806} stroke={BLACK} strokeWidth={1.6} strokeDasharray="2 2" />
      <text x={43} y={806} dy="0.36em" fontSize={16} {...t}>Data</text>
      <line x1={13} x2={33} y1={824} y2={824} stroke={RED} strokeWidth={2} />
      <text x={43} y={824} dy="0.36em" fontSize={16} {...t}>Old model</text>
      <line x1={13} x2={33} y1={843} y2={843} stroke={GREEN} strokeWidth={2} />
      <text x={43} y={843} dy="0.36em" fontSize={16} {...t}>New model</text>
      <line x1={13} x2={33} y1={862} y2={862} stroke={MAGENTA} strokeWidth={2} />
      <text x={43} y={862} dy="0.36em" fontSize={16} {...t}>New model</text>
      <text x={40} y={888} fontSize={16} {...t}>
        + [Ca<tspan dy={-8} fontSize={11}>2+</tspan>
        <tspan dy={8}>]</tspan>
      </text>
    </svg>
  );
}

const lineProps = { dataKey: "v", dot: false, isAnimationActive: false, type: "linear" as const };

export default function App() {
  const xAxis = <XAxis type="number" dataKey="t" domain={X_DOMAIN} hide allowDataOverflow />;
  return (
    <div style={{ ...abs, width: W, height: H, background: "#fff" }}>
      {/* WAIS Divide isotopes + Ca */}
      <div style={abs}>
        <LineChart width={W} height={H} margin={margin(40, 134, true)}>
          {xAxis}
          <YAxis yAxisId="l" orientation="left" width={AXW} domain={[-42.97, -30.44]} ticks={[-42, -40, -38, -36, -34, -32]}
            interval={0} allowDataOverflow axisLine={{ stroke: AXIS_GRAY }} tickLine={false}
            tick={yTick("left", [-40, -36, -32], AXIS_GRAY, "#333", intLabel)} />
          <YAxis yAxisId="r" orientation="right" width={AXW} domain={[-0.3, 38.1]} ticks={[0, 10, 20, 30]}
            interval={0} allowDataOverflow axisLine={{ stroke: ORANGE }} tickLine={false}
            tick={yTick("right", [0, 10, 20, 30], ORANGE, ORANGE, intLabel)} />
          <Line yAxisId="l" data={grid(waisD18O)} stroke={GRAY} strokeWidth={1.2} {...lineProps} />
          <Line yAxisId="r" data={pts(waisCa)} stroke={ORANGE} strokeWidth={1.3} {...lineProps} />
        </LineChart>
      </div>

      {/* WAIS Divide d15N */}
      <div style={abs}>
        <LineChart width={W} height={H} margin={margin(144, 238, false)}>
          {xAxis}
          <YAxis yAxisId="r" orientation="right" width={AXW} domain={[0.2841, 0.4333]} ticks={[0.3, 0.35, 0.4]}
            interval={0} allowDataOverflow axisLine={{ stroke: "#000" }} tickLine={false}
            tick={yTick("right", [0.3, 0.35, 0.4], "#000", "#000", n15Label)} />
          {shades(shadeWais, "w")}
          <Line yAxisId="r" data={pts(waisN15Magenta)} stroke={MAGENTA} strokeWidth={2} {...lineProps} />
          <Line yAxisId="r" data={pts(waisN15Green)} stroke={GREEN_BRIGHT} strokeWidth={2} {...lineProps} />
          <Line yAxisId="r" data={pts(waisN15Red)} stroke={RED} strokeWidth={2} {...lineProps} />
          <Line yAxisId="r" data={pts(waisN15Data)} stroke={BLACK} strokeWidth={1.6} strokeDasharray="2 2" {...lineProps} />
        </LineChart>
      </div>

      {/* NGRIP isotopes + Ca */}
      <div style={abs}>
        <LineChart width={W} height={H} margin={margin(254, 350, true)}>
          {xAxis}
          <YAxis yAxisId="l" orientation="left" width={AXW} domain={[-46.06, -31.62]}
            ticks={[-46, -44, -42, -40, -38, -36, -34, -32]} interval={0} allowDataOverflow
            axisLine={{ stroke: AXIS_GRAY }} tickLine={false}
            tick={yTick("left", [-44, -40, -36, -32], AXIS_GRAY, "#333", intLabel)} />
          <YAxis yAxisId="r" orientation="right" width={AXW} domain={[0, 873]}
            ticks={[0, 100, 200, 300, 400, 500, 600, 700, 800]} interval={0} allowDataOverflow
            axisLine={{ stroke: ORANGE }} tickLine={false}
            tick={yTick("right", [0, 200, 400, 600, 800], ORANGE, ORANGE, intLabel)} />
          <Line yAxisId="l" data={grid(ngripD18O)} stroke={GRAY} strokeWidth={1.2} {...lineProps} />
          <Line yAxisId="r" data={pts(ngripCa)} stroke={ORANGE} strokeWidth={1.3} {...lineProps} />
        </LineChart>
      </div>

      {/* NGRIP d15N */}
      <div style={abs}>
        <LineChart width={W} height={H} margin={margin(360, 453, false)}>
          {xAxis}
          <YAxis yAxisId="r" orientation="right" width={AXW} domain={[0.268, 0.578]}
            ticks={[0.3, 0.35, 0.4, 0.45, 0.5, 0.55]} interval={0} allowDataOverflow
            axisLine={{ stroke: "#000" }} tickLine={false}
            tick={yTick("right", [0.3, 0.4, 0.5], "#000", "#000", n15Label)} />
          {shades(shadeNgrip, "n")}
          <Line yAxisId="r" data={pts(ngripN15Green)} stroke={GREEN} strokeWidth={1.8} {...lineProps} />
          <Line yAxisId="r" data={pts(ngripN15Red)} stroke={RED} strokeWidth={1.8} {...lineProps} />
          <Line yAxisId="r" data={pts(ngripN15Magenta)} stroke={MAGENTA} strokeWidth={1.8} {...lineProps} />
          <Line yAxisId="r" data={pts(ngripN15Data)} stroke={BLACK} strokeWidth={1.6} strokeDasharray="2 2" {...lineProps} />
        </LineChart>
      </div>

      {/* EDML isotopes + Ca */}
      <div style={abs}>
        <LineChart width={W} height={H} margin={margin(473, 570, true)}>
          {xAxis}
          <YAxis yAxisId="l" orientation="left" width={AXW} domain={[-53.11, -41.77]}
            ticks={[-52, -50, -48, -46, -44, -42]} interval={0} allowDataOverflow
            axisLine={{ stroke: AXIS_GRAY }} tickLine={false}
            tick={yTick("left", [-52, -50, -48, -46, -44, -42], AXIS_GRAY, "#333", intLabel)} />
          <YAxis yAxisId="r" orientation="right" width={AXW} domain={[0, 83.1]}
            ticks={[0, 10, 20, 30, 40, 50, 60, 70, 80]} interval={0} allowDataOverflow
            axisLine={{ stroke: ORANGE }} tickLine={false}
            tick={yTick("right", [0, 20, 40, 60, 80], ORANGE, ORANGE, intLabel, (v) => (v === 0 ? -4 : 0))} />
          <Line yAxisId="l" data={grid(edmlD18O)} stroke={GRAY} strokeWidth={1.2} {...lineProps} />
          <Line yAxisId="r" data={pts(edmlCa)} stroke={ORANGE} strokeWidth={1.3} {...lineProps} />
        </LineChart>
      </div>

      {/* EDML d15N */}
      <div style={abs}>
        <LineChart width={W} height={H} margin={margin(577, 665, false)}>
          {xAxis}
          <YAxis yAxisId="r" orientation="right" width={AXW} domain={[0.345, 0.4935]}
            ticks={[0.36, 0.38, 0.4, 0.42, 0.44, 0.46, 0.48]} interval={0} allowDataOverflow
            axisLine={{ stroke: "#000" }} tickLine={false}
            tick={yTick("right", [0.36, 0.4, 0.44, 0.48], "#000", "#000", n15Label, (v) => (v === 0.48 ? 1 : 0))} />
          {shades(shadeEdml, "e")}
          <Line yAxisId="r" data={pts(edmlN15Green)} stroke={GREEN} strokeWidth={1.8} {...lineProps} />
          <Line yAxisId="r" data={pts(edmlN15Red)} stroke={RED} strokeWidth={1.8} {...lineProps} />
          <Line yAxisId="r" data={pts(edmlN15Magenta)} stroke={MAGENTA} strokeWidth={1.8} {...lineProps} />
          <Line yAxisId="r" data={pts(edmlN15Data)} stroke={BLACK} strokeWidth={1.6} strokeDasharray="2 2" {...lineProps} />
        </LineChart>
      </div>

      {/* Dome C isotopes + Ca */}
      <div style={abs}>
        <LineChart width={W} height={H} margin={margin(689, 785, true)}>
          {xAxis}
          <YAxis yAxisId="l" orientation="left" width={AXW} domain={[-449.9, -378.5]}
            ticks={[-440, -430, -420, -410, -400, -390, -380]} interval={0} allowDataOverflow
            axisLine={{ stroke: AXIS_GRAY }} tickLine={false}
            tick={yTick("left", [-440, -420, -400, -380], AXIS_GRAY, "#333", intLabel)} />
          <YAxis yAxisId="r" orientation="right" width={AXW} domain={[-1.2, 66.1]}
            ticks={[0, 10, 20, 30, 40, 50, 60]} interval={0} allowDataOverflow
            axisLine={{ stroke: ORANGE }} tickLine={false}
            tick={yTick("right", [0, 20, 40, 60], ORANGE, ORANGE, intLabel)} />
          <Line yAxisId="l" data={grid(domeCdD)} stroke={GRAY} strokeWidth={1.2} {...lineProps} />
          <Line yAxisId="r" data={pts(domeCCa)} stroke={ORANGE} strokeWidth={1.3} {...lineProps} />
        </LineChart>
      </div>

      {/* Dome C d15N + age axis */}
      <div style={abs}>
        <LineChart width={W} height={H} margin={margin(793, 891, false, 70)}>
          <XAxis type="number" dataKey="t" domain={X_DOMAIN} allowDataOverflow ticks={AGE_TICKS} interval={0}
            height={70} axisLine={false} tickSize={16} tickLine={{ stroke: "#000" }} tick={ageTick} />
          <YAxis yAxisId="r" orientation="right" width={AXW} domain={[0.4074, 0.568]}
            ticks={[0.425, 0.45, 0.475, 0.5, 0.525, 0.55]} interval={0} allowDataOverflow
            axisLine={{ stroke: "#000" }} tickLine={false}
            tick={yTick("right", [0.45, 0.5, 0.55], "#000", "#000", n15Label)} />
          {shades(shadeDomeC, "d")}
          <ReferenceLine yAxisId="r" segment={[{ x: 1.68, y: 0.4074 }, { x: 24, y: 0.4074 }]} stroke="#000" strokeWidth={1.2} ifOverflow="visible" />
          <Line yAxisId="r" data={pts(domeCN15Red)} stroke={RED} strokeWidth={1.8} {...lineProps} />
          <Line yAxisId="r" data={pts(domeCN15Green)} stroke={GREEN} strokeWidth={1.8} {...lineProps} />
          <Line yAxisId="r" data={pts(domeCN15Magenta)} stroke={MAGENTA} strokeWidth={1.8} {...lineProps} />
          <Line yAxisId="r" data={pts(domeCN15Data)} stroke={BLACK} strokeWidth={1.6} strokeDasharray="2 2" {...lineProps} />
        </LineChart>
      </div>

      <Overlay />
    </div>
  );
}
